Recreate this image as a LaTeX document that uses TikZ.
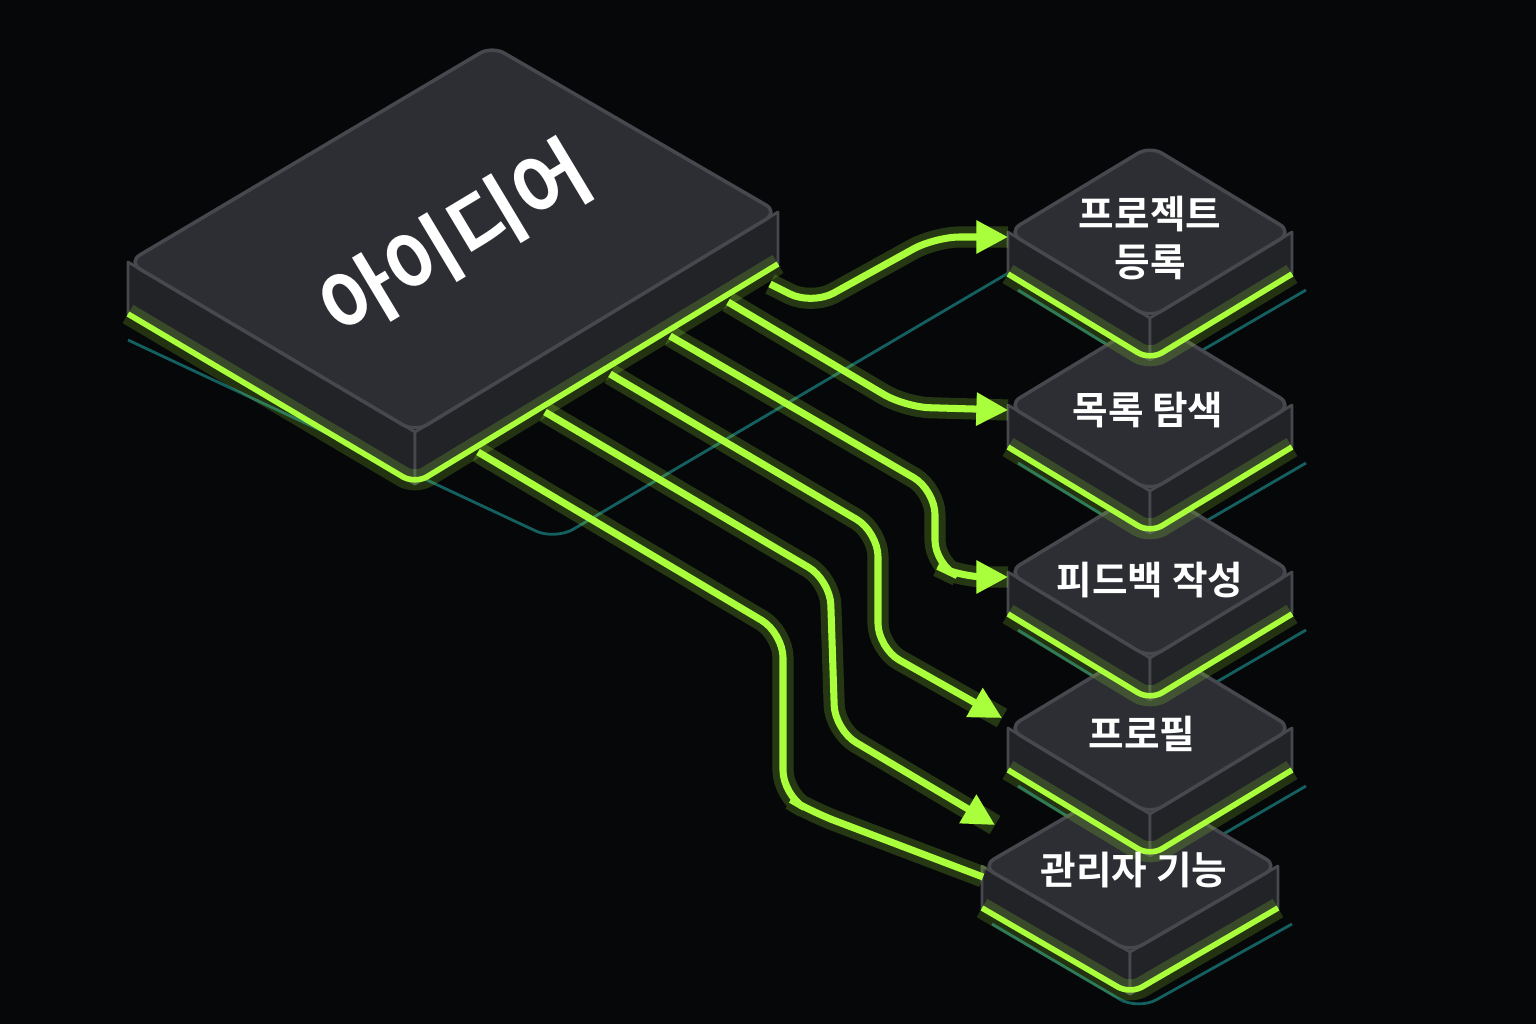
\documentclass[tikz,border=0pt]{standalone}
\usepackage{fontspec}
\newfontfamily\kr{Noto Sans CJK KR Bold}
\usetikzlibrary{arrows.meta,positioning,calc}
\definecolor{bgblack}{RGB}{6,7,9}
\definecolor{slabtop}{RGB}{44,46,51}
\definecolor{slabside}{RGB}{33,35,39}
\definecolor{slabedge}{RGB}{70,72,78}
\definecolor{limegreen}{RGB}{170,255,60}
\definecolor{shadowteal}{RGB}{20,95,95}
\tikzset{
  topface/.style={fill=slabtop, draw=slabedge, line width=1pt, rounded corners=4pt, line join=round},
  sideface/.style={fill=slabside, draw=slabedge, line width=0.8pt, line join=round},
  glowedge/.style={draw=limegreen, line width=1.6pt, rounded corners=4pt},
  glowwide/.style={draw=limegreen, opacity=0.18, line width=6pt, rounded corners=4pt},
  teal/.style={draw=shadowteal, line width=0.8pt, rounded corners=6pt},
  flow/.style={draw=limegreen, line width=2pt, rounded corners=7pt, -{Triangle[length=9pt,width=9pt]}},
  flowplain/.style={draw=limegreen, line width=2pt, rounded corners=7pt},
  flowglow/.style={draw=limegreen, opacity=0.2, line width=6pt, rounded corners=7pt},
  boxtext/.style={text=white, font=\kr\fontsize{11}{13.5}\selectfont, align=center}
}
\begin{document}
\begin{tikzpicture}[x=0.01cm, y=-0.01cm]
    % Background
    \fill[bgblack] (0,0) rectangle (1536,1024);
    \useasboundingbox (0,0) rectangle (1536,1024);

    % Shadows
    \draw[teal] (128,340) -- (555,540) -- (1010,272);
    \foreach \cx/\cy/\hw in {1130/866/148, 1150/728/142, 1150/572/142, 1150/405/142, 1150/232/142} {
        \draw[teal] (\cx-\hw+10,\cy+58) -- (\cx+8,\cy+144) -- (\cx+\hw+14,\cy+58);
    }

    % Big slab
    \filldraw[sideface] (128,262) -- (415,432) -- (415,484) -- (128,314) -- cycle;
    \filldraw[sideface] (415,432) -- (778,212) -- (778,264) -- (415,484) -- cycle;
    \draw[glowwide] (128,314) -- (415,484) -- (778,264);
    \draw[glowedge] (128,314) -- (415,484) -- (778,264);
    \filldraw[topface] (128,262) -- (492,46) -- (778,212) -- (415,432) -- cycle;
    \node[text=white, font=\kr\fontsize{23}{25}\selectfont, rotate=31] (idea) at (455,240) {아이디어};

    % Small slabs, lower ones first
    \foreach \cx/\cy/\hw/\n in {1130/866/148/e, 1150/728/142/d, 1150/572/142/c, 1150/405/142/b, 1150/232/142/a} {
        \filldraw[sideface] (\cx-\hw,\cy) -- (\cx,\cy+86) -- (\cx,\cy+128) -- (\cx-\hw,\cy+42) -- cycle;
        \filldraw[sideface] (\cx,\cy+86) -- (\cx+\hw,\cy) -- (\cx+\hw,\cy+42) -- (\cx,\cy+128) -- cycle;
        \draw[glowwide] (\cx-\hw,\cy+42) -- (\cx,\cy+128) -- (\cx+\hw,\cy+42);
        \draw[glowedge] (\cx-\hw,\cy+42) -- (\cx,\cy+128) -- (\cx+\hw,\cy+42);
        \filldraw[topface] (\cx-\hw,\cy) -- (\cx,\cy-86) -- (\cx+\hw,\cy) -- (\cx,\cy+86) -- cycle;
        \coordinate (box\n) at (\cx-\hw,\cy+5);
    }
    \node[boxtext] (ta) at (1150,238) {프로젝트\\등록};
    \node[boxtext] (tb) at (1148,410) {목록 탐색};
    \node[boxtext] (tc) at (1150,580) {피드백 작성};
    \node[boxtext] (td) at (1142,734) {프로필};
    \node[boxtext] (te) at (1134,870) {관리자 기능};

    % Connectors
    \coordinate (s1) at (770,284);
    \coordinate (s2) at (728,302);
    \coordinate (s3) at (670,336);
    \coordinate (s4) at (610,374);
    \coordinate (s5) at (545,412);
    \coordinate (s6) at (478,452);
    \foreach \p in {flowglow} {
        \draw[\p] (s1) -- (812,305) -- (935,237) -- (boxa);
        \draw[\p] (s2) -- (905,407) -- (boxb);
        \draw[\p] (s3) -- (935,490) -- (935,565) -- (960,577) -- (boxc);
        \draw[\p] (s4) -- (878,532) -- (878,648) -- (1002,718);
        \draw[\p] (s5) -- (830,580) -- (835,730) -- (995,825);
        \draw[\p] (s6) -- (783,633) -- (783,795) -- (812,812) -- (983,877);
    }
    \draw[flow] (s1) -- (812,305) -- (935,237) -- (boxa);
    \draw[flow] (s2) -- (905,407) -- (boxb);
    \draw[flow] (s3) -- (935,490) -- (935,565) -- (960,577) -- (boxc);
    \draw[flow] (s4) -- (878,532) -- (878,648) -- (1002,718);
    \draw[flow] (s5) -- (830,580) -- (835,730) -- (995,825);
    \draw[flowplain] (s6) -- (783,633) -- (783,795) -- (812,812) -- (983,877);
\end{tikzpicture}
\end{document}
